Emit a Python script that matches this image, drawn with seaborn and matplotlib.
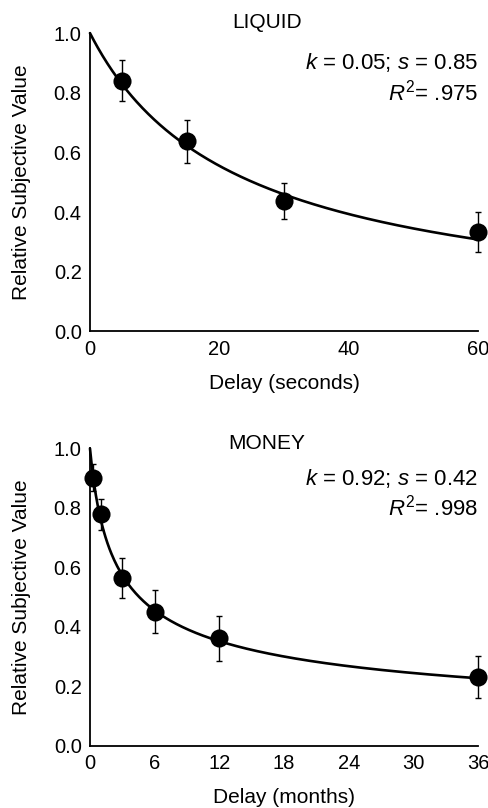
"""
Delay discounting of liquid and money: hyperboloid fits with group means.
"""

import matplotlib

matplotlib.use("Agg")
import matplotlib.pyplot as plt
import numpy as np
import pandas as pd
import seaborn as sns

# LIQUID panel
LIQUID_DELAYS = [5, 15, 30, 60]
LIQUID_VALUES = [0.840, 0.638, 0.436, 0.334]
LIQUID_SEM = [0.069, 0.072, 0.060, 0.067]
LIQUID_K = 0.05
LIQUID_S = 0.85
LIQUID_R2 = ".975"

# MONEY panel
MONEY_DELAYS = [0.25, 1, 3, 6, 12, 36]
MONEY_VALUES = [0.902, 0.778, 0.565, 0.451, 0.361, 0.232]
MONEY_SEM = [0.044, 0.051, 0.067, 0.072, 0.076, 0.071]
MONEY_K = 0.92
MONEY_S = 0.42
MONEY_R2 = ".998"


def hyperboloid(delay, k, s):
    return 1.0 / (1.0 + k * delay) ** s


def draw_panel(ax, title, title_y, delays, values, sem, k, s, r2, xmax,
               xticks, xlabel):
    grid = np.linspace(0, xmax, 400)
    curve = pd.DataFrame({"delay": grid, "value": hyperboloid(grid, k, s)})
    sns.lineplot(data=curve, x="delay", y="value", ax=ax, color="black",
                 linewidth=1.9, clip_on=False)

    ax.errorbar(delays, values, yerr=sem, fmt="none", ecolor="black",
                elinewidth=1.0, capsize=2.5, capthick=1.0, clip_on=False)
    pts = pd.DataFrame({"delay": delays, "value": values})
    sns.scatterplot(data=pts, x="delay", y="value", ax=ax, color="black",
                    s=170, edgecolor="black", linewidth=0, clip_on=False, zorder=3)

    ax.set_xlim(0, xmax)
    ax.set_ylim(0, 1.0)
    ax.set_xticks(xticks)
    ax.set_yticks([0.0, 0.2, 0.4, 0.6, 0.8, 1.0])
    ax.set_yticklabels([f"{v:.1f}" for v in [0.0, 0.2, 0.4, 0.6, 0.8, 1.0]])
    ax.set_xlabel(xlabel, fontsize=15, labelpad=11, color="black")
    ax.set_ylabel("Relative Subjective Value", fontsize=15, labelpad=16,
                  color="black")
    ax.tick_params(direction="in", length=6, width=1.2, labelsize=14.5,
                   colors="black", pad=6)
    for side in ["top", "right"]:
        ax.spines[side].set_visible(False)
    for side in ["left", "bottom"]:
        ax.spines[side].set_linewidth(1.3)
        ax.spines[side].set_color("black")

    ax.text(0.455, title_y, title, transform=ax.transAxes, ha="center",
            va="center", fontsize=15, color="black")
    ax.text(1.0, 0.90, f"$k$ = {k:.2f}; $s$ = {s:.2f}", transform=ax.transAxes,
            ha="right", va="center", fontsize=16, color="black")
    ax.text(1.0, 0.80, f"$R^2$= {r2}", transform=ax.transAxes,
            ha="right", va="center", fontsize=16, color="black")


def main():
    sns.set_theme(style="white")
    plt.rcParams["font.family"] = ["Liberation Sans", "DejaVu Sans"]
    plt.rcParams["text.color"] = "black"
    plt.rcParams["mathtext.fontset"] = "custom"
    plt.rcParams["mathtext.rm"] = "Liberation Sans"
    plt.rcParams["mathtext.it"] = "Liberation Sans:italic"

    fig = plt.figure(figsize=(4.89, 8.08), dpi=100)
    ax_top = fig.add_axes([0.184, 0.590, 0.794, 0.369])
    ax_bot = fig.add_axes([0.184, 0.077, 0.794, 0.368])

    draw_panel(ax_top, "LIQUID", 1.037, LIQUID_DELAYS, LIQUID_VALUES,
               LIQUID_SEM, LIQUID_K, LIQUID_S, LIQUID_R2, 60, [0, 20, 40, 60],
               "Delay (seconds)")
    draw_panel(ax_bot, "MONEY", 1.017, MONEY_DELAYS, MONEY_VALUES, MONEY_SEM,
               MONEY_K, MONEY_S, MONEY_R2, 36, [0, 6, 12, 18, 24, 30, 36],
               "Delay (months)")

    fig.savefig("out.png", dpi=100)
    plt.close(fig)


if __name__ == "__main__":
    main()
